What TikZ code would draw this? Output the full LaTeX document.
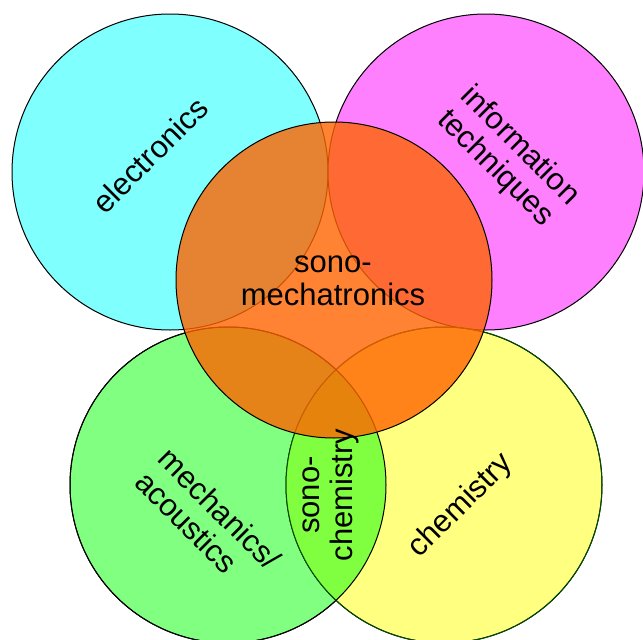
\documentclass[tikz,border=0pt]{standalone}
\usepackage{fontspec}
\setmainfont{Liberation Sans}
\definecolor{elcyan}{RGB}{128,255,255}
\definecolor{infomagenta}{RGB}{255,128,255}
\definecolor{mechgreen}{RGB}{128,255,128}
\definecolor{chemyellow}{RGB}{255,255,128}
\definecolor{lensgreen}{RGB}{128,255,64}
\definecolor{sonoorange}{RGB}{255,100,0}
\begin{document}
\begin{tikzpicture}[x=1pt,y=-1pt,
  field/.style={circle,draw=black,line width=1pt,minimum size=316pt,inner sep=0pt},
  areatext/.style={font=\fontsize{31}{33}\selectfont,align=left,text=black,inner sep=0pt}]
\useasboundingbox (0,0) rectangle (643,640);
\node[field,fill=elcyan] (electronics) at (170,172) {};
\node[field,fill=infomagenta] (information) at (486,172) {};
\node[field,fill=mechgreen] (mechanics) at (228,485) {};
\node[field,fill=chemyellow] (chemistry) at (444,485) {};
\begin{scope}
\clip (mechanics.center) circle[radius=158pt];
\fill[lensgreen] (chemistry.center) circle[radius=158pt];
\end{scope}
\draw[line width=1pt,black!70!green] (chemistry.center) circle[radius=158pt];
\draw[line width=1pt] (mechanics.center) circle[radius=158pt];
\node[field,fill=sonoorange,fill opacity=0.8] (mechatronics) at (334,280) {};
\node[areatext,rotate=45] (electronicslabel) at (150,155) {electronics};
\node[areatext,rotate=-45] (informationlabel) at (508,158) {information\\techniques};
\node[areatext,rotate=-45] (mechanicslabel) at (208,520) {mechanics/\\acoustics};
\node[areatext,rotate=45] (chemistrylabel) at (461,506) {chemistry};
\node[areatext,align=center] (mechatronicslabel) at (333,281) {sono-\\mechatronics};
\node[areatext,align=center,rotate=90] (sonochemlabel) at (331,495) {sono-\\chemistry};
\end{tikzpicture}
\end{document}
